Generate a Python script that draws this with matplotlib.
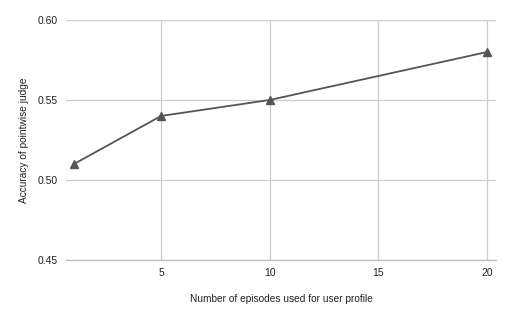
import matplotlib
matplotlib.use("Agg")
import matplotlib.pyplot as plt

episodes = [1, 5, 10, 20]
accuracy = [0.51, 0.54, 0.55, 0.58]
x_ticks = [5, 10, 15, 20]
y_ticks = [0.45, 0.50, 0.55, 0.60]

plt.rcParams['font.family'] = ['Liberation Sans', 'DejaVu Sans']

fig = plt.figure(figsize=(5.12, 3.17), dpi=100)
ax = fig.add_axes([0.129, 0.180, 0.840, 0.757])

ax.plot(episodes, accuracy, color='#555555', lw=1.3, marker='^', ms=6,
        markerfacecolor='#555555', markeredgecolor='#555555', zorder=3)

ax.set_xlim(0.63, 20.41)
ax.set_ylim(0.45, 0.60)
ax.set_xticks(x_ticks)
ax.set_yticks(y_ticks)
ax.set_yticklabels([f'{v:.2f}' for v in y_ticks])
ax.grid(True, color='#cccccc', lw=0.9)
ax.set_axisbelow(True)
for s in ax.spines.values():
    s.set_visible(False)
ax.spines['bottom'].set_visible(True)
ax.spines['bottom'].set_color('#bbbbbb')
ax.spines['bottom'].set_linewidth(0.9)
ax.tick_params(length=0, labelsize=7.5, colors='#222222', pad=6)

ax.set_xlabel('Number of episodes used for user profile', fontsize=7.3, color='#222222', labelpad=11)
ax.set_ylabel('Accuracy of pointwise judge', fontsize=7.3, color='#222222', labelpad=6)

fig.savefig('out.png', dpi=100)
